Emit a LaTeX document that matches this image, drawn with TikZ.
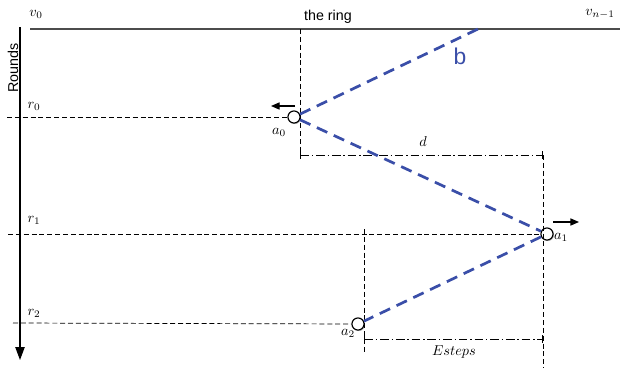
\documentclass[tikz,border=0pt]{standalone}
\usepackage{fontspec}
\setsansfont{Liberation Sans}
\usepackage{xcolor}
\usepackage{tikz}
\usepackage{amsmath}
\usetikzlibrary{arrows.meta,shadows}
\definecolor{pathblue}{RGB}{58,78,168}

\begin{document}
\begin{tikzpicture}[x=0.7pt,y=-0.7pt,
    agent/.style={circle,draw,fill=white,line width=0.8pt,inner sep=0pt,minimum size=8.5pt,
      drop shadow={shadow xshift=0.7pt,shadow yshift=-0.7pt,opacity=0.45}},
    roundline/.style={dashed,line width=0.5pt,dash pattern=on 3.5pt off 2pt},
    guide/.style={line width=0.5pt,dash pattern=on 3.5pt off 2pt},
    measure/.style={line width=0.5pt,dash pattern=on 6pt off 2pt on 1pt off 2pt,
      {Bar[width=5pt]}-{Bar[width=5pt]}},
    walk/.style={pathblue,line width=1.9pt,dash pattern=on 8pt off 5pt},
    move/.style={-{Triangle[length=6pt,width=5pt]},line width=0.8pt}]
        \useasboundingbox (0,0) rectangle (620,368);
        % The ring
        \coordinate (ringL) at (30,29);
        \coordinate (ringR) at (620,29);
        \coordinate (ringX) at (300,29);
        \coordinate (ringB) at (478,29);
        \draw[gray!60!black,line width=1pt] (ringL) -- (ringR);
        \node (v0) at (36,14) {$v_0$};
        \node (vn) at (600,14) {$v_{n-1}$};
        \node[font=\sffamily] (ring) at (328,17) {the ring};
        % Rounds axis
        \coordinate (axT) at (20,27);
        \coordinate (axB) at (20,360);
        \draw[line width=0.8pt,-{Triangle[length=9pt,width=6.5pt]}] (axT) -- (axB);
        \node[font=\sffamily,rotate=90] (rounds) at (13,68) {Rounds};
        % Agents
        \node[agent] (a0) at (294,117) {};
        \node[agent] (a1) at (547,234) {};
        \node[agent] (a2) at (358,324) {};
        \node (la0) at (279,132) {$a_0$};
        \node (la1) at (561,237) {$a_1$};
        \node (la2) at (348,333) {$a_2$};
        % Round lines
        \coordinate (r0s) at (7,117);
        \coordinate (r1s) at (8,234);
        \coordinate (r2s) at (13,323);
        \draw[roundline] (r0s) -- (a0);
        \draw[roundline] (r1s) -- (a1);
        \draw[roundline] (r2s) -- (a2);
        \node (r0) at (34,106) {$r_0$};
        \node (r1) at (34,220) {$r_1$};
        \node (r2) at (34,313) {$r_2$};
        % Guides
        \coordinate (dL) at (300,155);
        \coordinate (dR) at (543,155);
        \coordinate (eT) at (364,229);
        \coordinate (eB) at (364,353);
        \coordinate (eL) at (364,339);
        \coordinate (eR) at (543,339);
        \coordinate (bot) at (543,368);
        \draw[guide] (ringX) -- (dL);
        \draw[guide] (dR) -- (bot);
        \draw[guide] (eT) -- (eB);
        \draw[measure] (dL) -- (dR);
        \draw[measure] (eL) -- (eR);
        \node (d) at (423,142) {$d$};
        \node (esteps) at (454,352) {$Esteps$};
        % Walk
        \draw[walk] (a0) -- (ringB);
        \draw[walk] (a0) -- (a1);
        \draw[walk] (a1) -- (a2);
        \node[pathblue,font=\sffamily\fontsize{16}{18}\selectfont] (b) at (460,56) {b};
        % Directions
        \coordinate (m0s) at (295,106);
        \coordinate (m0e) at (271,106);
        \coordinate (m1s) at (553,222);
        \coordinate (m1e) at (579,222);
        \draw[move] (m0s) -- (m0e);
        \draw[move] (m1s) -- (m1e);
    \end{tikzpicture}
\end{document}
